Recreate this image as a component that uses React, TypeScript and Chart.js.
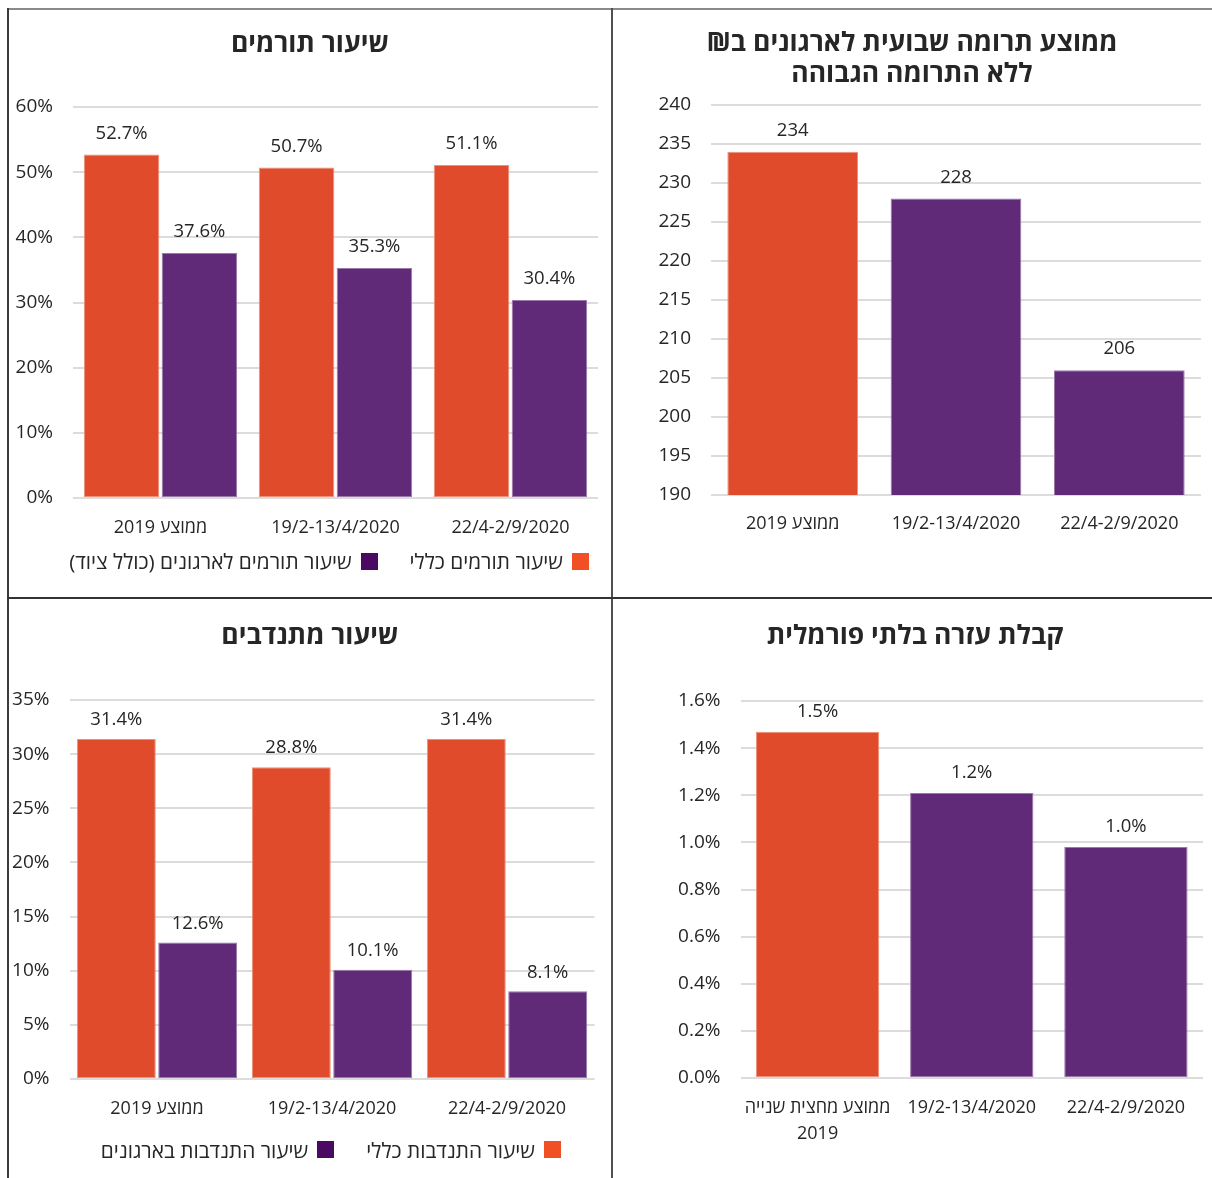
import React, { useEffect, useRef } from 'react';
import { Chart, registerables } from 'chart.js';

Chart.register(...registerables);

const FONT = "'Open Sans', 'Liberation Sans', 'DejaVu Sans', sans-serif";
const TEXT = '#262626';
const ORANGE = '#E04B2B';
const PURPLE = '#612A78';
const ORANGE_EDGE = '#EE9078';
const PURPLE_EDGE = '#9A78AA';
const LEGEND_ORANGE = '#F05023';
const LEGEND_PURPLE = '#4B0A61';

// ---------- data ----------
const periods = ['ממוצע 2019', '19/2-13/4/2020', '22/4-2/9/2020'];
const periodsInformal = [['ממוצע מחצית שנייה', '2019'], '19/2-13/4/2020', '22/4-2/9/2020'];

const donorRateGeneral = [52.7, 50.7, 51.1];
const donorRateOrgs = [37.6, 35.3, 30.4];
const weeklyDonation = [234, 228, 206];
const volunteerRateGeneral = [31.4, 28.8, 31.4];
const volunteerRateOrgs = [12.6, 10.1, 8.1];
const informalHelpRate = [1.47, 1.21, 0.98];

const donorSeries = ['שיעור תורמים כללי', 'שיעור תורמים לארגונים (כולל ציוד)'];
const volunteerSeries = ['שיעור התנדבות כללי', 'שיעור התנדבות בארגונים'];

const titleDonors = ['שיעור תורמים'];
const titleWeekly = ['ממוצע תרומה שבועית לארגונים ב₪', 'ללא התרומה הגבוהה'];
const titleVolunteers = ['שיעור מתנדבים'];
const titleInformal = ['קבלת עזרה בלתי פורמלית'];

const pct0 = (v: number) => `${Math.round(v)}%`;
const pct1 = (v: number) => `${v.toFixed(1)}%`;
const plain = (v: number) => `${Math.round(v)}`;

type DS = { label: string; data: number[]; bg: string | string[]; edge: string | string[] };
type Spec = {
  labels: any[];
  datasets: DS[];
  min: number;
  max: number;
  step: number;
  tick: (v: number) => string;
  value: (v: number) => string;
  padTop: number;
  padRight: number;
  yWidth: number;
  xHeight: number;
  xPad: number;
  xLineHeight: number;
  catPct: number;
  barPct: number;
  labelOffset: number;
};

function buildConfig(s: Spec): any {
  const valuePlugin = {
    id: 'valueLabels',
    afterDatasetsDraw(chart: any) {
      const ctx = chart.ctx;
      ctx.save();
      ctx.font = `18.5px ${FONT}`;
      ctx.fillStyle = TEXT;
      ctx.textAlign = 'center';
      ctx.textBaseline = 'middle';
      chart.data.datasets.forEach((ds: any, i: number) => {
        chart.getDatasetMeta(i).data.forEach((el: any, j: number) => {
          ctx.fillText(s.value(ds.data[j]), el.x, el.y - s.labelOffset);
        });
      });
      ctx.restore();
    },
  };
  return {
    type: 'bar',
    data: {
      labels: s.labels,
      datasets: s.datasets.map((d) => ({
        label: d.label,
        data: d.data,
        backgroundColor: d.bg,
        borderColor: d.edge,
        borderWidth: 1,
        borderSkipped: false,
        categoryPercentage: s.catPct,
        barPercentage: s.barPct,
      })),
    },
    options: {
      responsive: false,
      animation: false,
      layout: { padding: { top: s.padTop, right: s.padRight, left: 0, bottom: 0 } },
      plugins: {
        legend: { display: false },
        title: { display: false },
        tooltip: { enabled: false },
      },
      scales: {
        x: {
          grid: { display: false },
          border: { display: false },
          ticks: {
            color: TEXT,
            font: { family: FONT, size: 18, lineHeight: s.xLineHeight },
            padding: s.xPad,
            maxRotation: 0,
            minRotation: 0,
            autoSkip: false,
          },
          afterFit: (sc: any) => {
            sc.height = s.xHeight;
          },
        },
        y: {
          min: s.min,
          max: s.max,
          grid: { color: '#dcdcdc', lineWidth: 2, drawTicks: false },
          border: { display: false },
          ticks: {
            stepSize: s.step,
            color: TEXT,
            font: { family: FONT, size: 19 },
            padding: 20,
            callback: (v: any) => s.tick(Number(v)),
          },
          afterFit: (sc: any) => {
            sc.width = s.yWidth;
          },
        },
      },
    },
    plugins: [valuePlugin],
  };
}

function ChartBox({ x, y, w, h, spec }: { x: number; y: number; w: number; h: number; spec: Spec }) {
  const ref = useRef<HTMLCanvasElement>(null);
  useEffect(() => {
    const c = new Chart(ref.current as HTMLCanvasElement, buildConfig(spec));
    return () => c.destroy();
  }, []);
  return (
    <canvas
      ref={ref}
      width={w}
      height={h}
      dir="rtl"
      style={{ position: 'absolute', left: x, top: y, width: w, height: h }}
    />
  );
}

function Title({ cx, cy, lines }: { cx: number; cy: number; lines: string[] }) {
  const lh = 31;
  return (
    <div
      dir="rtl"
      style={{
        position: 'absolute',
        left: cx - 300,
        width: 600,
        top: cy - (lh * lines.length) / 2,
        textAlign: 'center',
        fontFamily: FONT,
        fontWeight: 'bold',
        fontSize: 26.5,
        lineHeight: `${lh}px`,
        color: TEXT,
        whiteSpace: 'nowrap',
      }}
    >
      {lines.map((l) => (
        <div key={l}>{l}</div>
      ))}
    </div>
  );
}

function HtmlLegend({ right, cy, items }: { right: number; cy: number; items: { label: string; color: string }[] }) {
  return (
    <div
      dir="rtl"
      style={{
        position: 'absolute',
        right: 1212 - right,
        top: cy - 13,
        height: 26,
        display: 'flex',
        alignItems: 'center',
        gap: 32,
        fontFamily: FONT,
        fontSize: 20.8,
        lineHeight: '26px',
        color: TEXT,
        whiteSpace: 'nowrap',
      }}
    >
      {items.map((it) => (
        <div key={it.label} style={{ display: 'flex', alignItems: 'center', gap: 9 }}>
          <span style={{ width: 17, height: 17, background: it.color, display: 'inline-block', flex: 'none' }} />
          <span>{it.label}</span>
        </div>
      ))}
    </div>
  );
}

const donorsSpec: Spec = {
  labels: periods,
  datasets: [
    { label: donorSeries[0], data: donorRateGeneral, bg: ORANGE, edge: ORANGE_EDGE },
    { label: donorSeries[1], data: donorRateOrgs, bg: PURPLE, edge: PURPLE_EDGE },
  ],
  min: 0,
  max: 60,
  step: 10,
  tick: pct0,
  value: pct1,
  padTop: 96,
  padRight: 12,
  yWidth: 63,
  xHeight: 98,
  xPad: 11,
  xLineHeight: 1.2,
  catPct: 0.89,
  barPct: 0.97,
  labelOffset: 21,
};

const weeklySpec: Spec = {
  labels: periods,
  datasets: [
    {
      label: titleWeekly[0],
      data: weeklyDonation,
      bg: [ORANGE, PURPLE, PURPLE],
      edge: [ORANGE_EDGE, PURPLE_EDGE, PURPLE_EDGE],
    },
  ],
  min: 190,
  max: 240,
  step: 5,
  tick: plain,
  value: plain,
  padTop: 94,
  padRight: 11,
  yWidth: 97,
  xHeight: 101,
  xPad: 10,
  xLineHeight: 1.2,
  catPct: 0.8,
  barPct: 1,
  labelOffset: 21,
};

const volunteersSpec: Spec = {
  labels: periods,
  datasets: [
    { label: volunteerSeries[0], data: volunteerRateGeneral, bg: ORANGE, edge: ORANGE_EDGE },
    { label: volunteerSeries[1], data: volunteerRateOrgs, bg: PURPLE, edge: PURPLE_EDGE },
  ],
  min: 0,
  max: 35,
  step: 5,
  tick: pct0,
  value: pct1,
  padTop: 100,
  padRight: 15.5,
  yWidth: 59.5,
  xHeight: 99,
  xPad: 11,
  xLineHeight: 1.2,
  catPct: 0.93,
  barPct: 0.97,
  labelOffset: 19,
};

const informalSpec: Spec = {
  labels: periodsInformal,
  datasets: [
    {
      label: titleInformal[0],
      data: informalHelpRate,
      bg: [ORANGE, PURPLE, PURPLE],
      edge: [ORANGE_EDGE, PURPLE_EDGE, PURPLE_EDGE],
    },
  ],
  min: 0,
  max: 1.6,
  step: 0.2,
  tick: pct1,
  value: pct1,
  padTop: 101,
  padRight: 9,
  yWidth: 126.5,
  xHeight: 100,
  xPad: 9,
  xLineHeight: 26 / 18,
  catPct: 0.8,
  barPct: 1,
  labelOffset: 20,
};

export default function App() {
  return (
    <div
      style={{
        position: 'absolute',
        left: 0,
        top: 0,
        width: 1212,
        height: 1178,
        overflow: 'hidden',
        background: '#fff',
      }}
    >
      {/* frame lines */}
      <div style={{ position: 'absolute', left: 7, top: 8, width: 1205, height: 2, background: '#8a8a8a' }} />
      <div style={{ position: 'absolute', left: 7, top: 8, width: 2, height: 1170, background: '#3c3c3c' }} />
      <div style={{ position: 'absolute', left: 611, top: 8, width: 2, height: 1170, background: '#505050' }} />
      <div style={{ position: 'absolute', left: 7, top: 597, width: 1205, height: 2, background: '#333' }} />

      <ChartBox x={10} y={11} w={600} h={585} spec={donorsSpec} />
      <ChartBox x={614} y={11} w={598} h={585} spec={weeklySpec} />
      <ChartBox x={10} y={600} w={600} h={578} spec={volunteersSpec} />
      <ChartBox x={614} y={600} w={598} h={578} spec={informalSpec} />

      <Title cx={310} cy={42} lines={titleDonors} />
      <Title cx={912} cy={57} lines={titleWeekly} />
      <Title cx={310} cy={634} lines={titleVolunteers} />
      <Title cx={915} cy={634} lines={titleInformal} />

      <HtmlLegend
        right={589}
        cy={561}
        items={[
          { label: donorSeries[0], color: LEGEND_ORANGE },
          { label: donorSeries[1], color: LEGEND_PURPLE },
        ]}
      />
      <HtmlLegend
        right={561}
        cy={1149.5}
        items={[
          { label: volunteerSeries[0], color: LEGEND_ORANGE },
          { label: volunteerSeries[1], color: LEGEND_PURPLE },
        ]}
      />
    </div>
  );
}
